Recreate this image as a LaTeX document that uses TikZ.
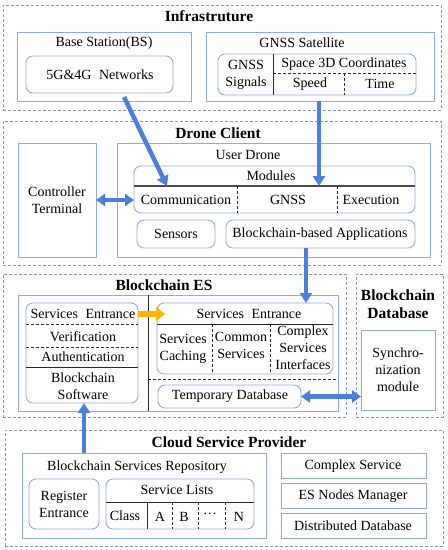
\documentclass[tikz,border=0pt]{standalone}
\usepackage{fontspec}
\setmainfont{Liberation Serif}
\usetikzlibrary{arrows.meta}
\definecolor{bx}{HTML}{8EA9DB}
\definecolor{grpc}{HTML}{8497B0}
\definecolor{arr}{HTML}{4C7FDA}
\definecolor{arrd}{HTML}{3A66B8}
\definecolor{yel}{HTML}{F7B500}
\newcommand{\mkbox}[6]{\node[#2, anchor=north west, minimum width={(#5-#3)*1pt}, minimum height={(#6-#4)*1pt}] (#1) at (#3,#4) {};}
\begin{document}
\begin{tikzpicture}[x=1pt,y=-1pt,
  txt/.style={font=\fontsize{14}{17}\selectfont, inner sep=0, align=center},
  ttl/.style={font=\fontsize{15.5}{18}\selectfont\bfseries, inner sep=0, align=center},
  grp/.style={draw=grpc, dashed, dash pattern=on 3pt off 2pt, line width=0.8pt, inner sep=0, outer sep=0},
  sqbox/.style={draw=bx, line width=0.9pt, inner sep=0, outer sep=0},
  rbox/.style={draw=bx, line width=0.9pt, rounded corners=7pt, inner sep=0, outer sep=0},
  divs/.style={draw=black!85, line width=0.9pt},
  divd/.style={draw=black!85, line width=0.9pt, dash pattern=on 3pt off 2pt},
  barrow/.style={draw=arr, line width=4.5pt, -{Triangle[length=10pt,width=12pt]}},
  darrow/.style={draw=arr, line width=4.5pt, {Triangle[length=9pt,width=12pt]}-{Triangle[length=9pt,width=12pt]}},
  yarrow/.style={draw=yel, line width=6pt, -{Triangle[length=9pt,width=14pt]}}
]
\useasboundingbox (0,0) rectangle (448,550);

% ---------- Infrastructure ----------
\mkbox{infra}{grp}{3}{5}{441}{110}
\node[ttl] (infrat) at (209,16) {Infrastruture};
\mkbox{bs}{sqbox}{17}{32}{191}{101}
\node[txt] (bst) at (104,43) {Base Station(BS)};
\mkbox{net}{rbox}{26}{56}{173}{93}
\node[txt] (nett) at (100,75) {5G\&4G\hspace{4pt} Networks};
\mkbox{gsat}{sqbox}{206}{32}{434}{101}
\node[txt] (gsatt) at (302,43) {GNSS Satellite};
\mkbox{gin}{rbox}{218}{54}{416}{95}
\draw[divs] (273,54) -- (273,95);
\draw[divd] (273,73) -- (416,73);
\draw[divd] (344,73) -- (344,95);
\node[txt] (gsig) at (246,75) {GNSS\\Signals};
\node[txt] (s3d) at (344,64) {Space 3D Coordinates};
\node[txt] (spd) at (310,84) {Speed};
\node[txt] (tim) at (380,84) {Time};

% ---------- Drone Client ----------
\mkbox{drone}{grp}{3}{121}{441}{265}
\node[ttl] (dronet) at (218,133) {Drone Client};
\mkbox{ctrl}{sqbox}{18}{143}{96}{257}
\node[txt] (ctrlt) at (57,200) {Controller\\Terminal};
\mkbox{ud}{sqbox}{117}{143}{430}{257}
\node[txt] (udt) at (248,155) {User Drone};
\mkbox{mod}{rbox}{134}{166}{415}{213}
\draw[draw=black!70, line width=1.2pt] (134,186) -- (415,186);
\draw[divd] (237,186) -- (237,213);
\draw[divd] (337,186) -- (337,213);
\node[txt] (modt) at (271,176) {Modules};
\node[txt] (comm) at (186,200) {Communication};
\node[txt] (gnss) at (288,200) {GNSS};
\node[txt] (exec) at (371,200) {Execution};
\mkbox{sens}{rbox}{137}{220}{215}{248}
\node[txt] (senst) at (176,234) {Sensors};
\mkbox{bapp}{rbox}{226}{220}{415}{248}
\node[txt] (bappt) at (320,234) {Blockchain-based Applications};

% ---------- Blockchain ES ----------
\mkbox{es}{grp}{3}{274}{346}{417}
\node[ttl] (est) at (164,285) {Blockchain ES};
\mkbox{esin}{sqbox}{18}{295}{338}{411}
\draw[divs] (148,295) -- (148,411);
\draw[divd] (148,379) -- (338,379);
\mkbox{lft}{rbox}{26}{303}{138}{403}
\draw[divd] (26,324) -- (138,324);
\draw[divd] (26,347) -- (138,347);
\draw[divs] (26,367) -- (138,367);
\node[txt] (lse) at (83,314) {Services\hspace{4pt} Entrance};
\node[txt] (ver) at (83,337) {Verification};
\node[txt] (auth) at (83,357) {Authentication};
\node[txt] (bsw) at (83,386) {Blockchain\\Software};
\mkbox{rgt}{rbox}{157}{303}{333}{374}
\draw[divs] (157,324) -- (333,324);
\draw[divd] (212,324) -- (212,374);
\draw[divd] (270,324) -- (270,374);
\node[txt] (rse) at (249,314) {Services\hspace{4pt} Entrance};
\node[txt] (sc) at (183,349) {Services\\Caching};
\node[txt] (cs) at (241,345) {Common\\Services};
\node[txt] (csi) at (303,348) {Complex\\Services\\Interfaces};
\mkbox{tdb}{rbox}{158}{385}{301}{408}
\node[txt] (tdbt) at (230,396) {Temporary Database};

% ---------- Blockchain Database ----------
\mkbox{bdb}{grp}{356}{274}{443}{417}
\node[ttl] (bdbt) at (398,304) {Blockchain\\Database};
\mkbox{sync}{sqbox}{361}{330}{435}{410}
\node[txt] (synct) at (398,370) {Synchro-\\nization\\module};

% ---------- Cloud Service Provider ----------
\mkbox{cloud}{grp}{5}{430}{443}{546}
\node[ttl] (cloudt) at (229,442) {Cloud Service Provider};
\mkbox{bsr}{sqbox}{22}{453}{266}{538}
\node[txt] (bsrt) at (137,467) {Blockchain Services Repository};
\mkbox{reg}{rbox}{29}{479}{99}{529}
\node[txt] (regt) at (64,504) {Register\\Entrance};
\mkbox{sl}{rbox}{106}{479}{254}{529}
\draw[divs] (106,502) -- (254,502);
\draw[divs] (147,502) -- (147,529);
\draw[divd] (172,502) -- (172,529);
\draw[divd] (198,502) -- (198,529);
\draw[divd] (225,502) -- (225,529);
\node[txt] (slt) at (177,490) {Service Lists};
\node[txt] (cls) at (125,516) {Class};
\node[txt] (la) at (160,517) {A};
\node[txt] (lb) at (184,517) {B};
\node[txt] (ldots) at (210,516) {\textperiodcentered\textperiodcentered\textperiodcentered};
\node[txt] (ln) at (239,517) {N};
\mkbox{cxs}{sqbox}{281}{453}{426}{478}
\node[txt] (cxst) at (353,466) {Complex Service};
\mkbox{esn}{sqbox}{281}{483}{426}{508}
\node[txt] (esnt) at (353,496) {ES Nodes Manager};
\mkbox{ddb}{sqbox}{281}{513}{426}{538}
\node[txt] (ddbt) at (353,526) {Distributed Database};

% ---------- connectors ----------
\coordinate (a1s) at (124,97);
\coordinate (a1e) at (167,186);
\draw[barrow] (a1s) -- (a1e);
\coordinate (a2s) at (319,101);
\coordinate (a2e) at (319,186);
\draw[barrow] (a2s) -- (a2e);
\draw[darrow] (ctrl.east |- comm) -- (mod.west |- comm);
\coordinate (a4s) at (306,248);
\draw[barrow] (a4s) -- (rgt.north -| a4s);
\draw[darrow] (tdb.east) -- (sync.west |- tdb.east);
\coordinate (a6s) at (84,453);
\draw[barrow] (a6s) -- (lft.south -| a6s);
\coordinate (a7e) at (165,314);
\draw[yarrow] (lft.east |- lse) -- (a7e);
\end{tikzpicture}
\end{document}
